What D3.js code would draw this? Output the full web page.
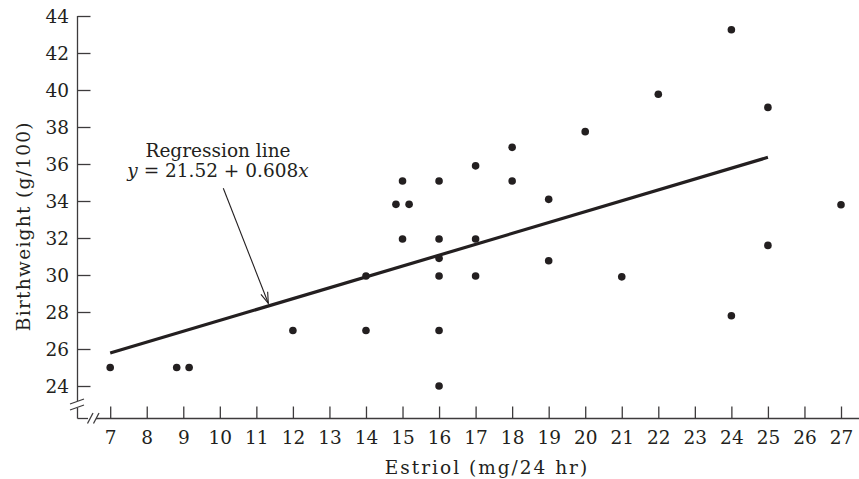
<!DOCTYPE html>
<html><head><meta charset="utf-8">
<script src="https://cdn.jsdelivr.net/npm/d3@7"></script>
<style>
body{margin:0;background:#fff}
svg{display:block}
text{font-family:"DejaVu Serif",serif;fill:#231f20}
</style>
</head><body><div id="chart"></div>
<script>
// ---- data ----
const estriol     = [7, 8.82, 9.16, 12, 14, 16, 16, 14, 16, 16, 17, 19, 21, 24, 15, 16, 17, 25, 27, 14.82, 15.18, 15, 16, 19, 18, 17, 18, 20, 22, 25, 24];
const birthweight = [25, 25, 25, 27, 27, 27, 24, 29.95, 29.95, 30.9, 29.95, 30.77, 29.9, 27.8, 31.95, 31.95, 31.95, 31.6, 33.8, 33.82, 33.82, 35.08, 35.08, 34.09, 35.08, 35.9, 36.9, 37.75, 39.77, 39.06, 43.26];
const xTicks = [7,8,9,10,11,12,13,14,15,16,17,18,19,20,21,22,23,24,25,26,27];
const yTicks = [24,26,28,30,32,34,36,38,40,42,44];
const lineX = [7, 25];
const lineY = [25.78, 36.36];
const annotationLines = ["Regression line", "y = 21.52 + 0.608x"];
const xTitle = "Estriol (mg/24 hr)";
const yTitle = "Birthweight (g/100)";

// ---- layout ----
const W = 859, H = 479;
const axisX = 77.5, axisY = 418.5;
const ink = "#231f20", axisInk = "#3d3b3c";

const svg = d3.select("#chart").append("svg").attr("width", W).attr("height", H);

const x = d3.scaleLinear().domain([7, 27]).range([110.2, 841.0]);
const y = d3.scaleLinear().domain([24, 44]).range([386, 16]);

// axes (ticks inward)
const gx = svg.append("g").attr("transform", `translate(0,${axisY})`)
  .style("color", axisInk)
  .call(d3.axisBottom(x).tickValues(xTicks).tickFormat(d3.format("d")).tickSize(-12).tickSizeOuter(0).tickPadding(12));
const gy = svg.append("g").attr("transform", `translate(${axisX},0)`)
  .style("color", axisInk)
  .call(d3.axisLeft(y).tickValues(yTicks).tickFormat(d3.format("d")).tickSize(-13).tickSizeOuter(0).tickPadding(8.5));
[gx, gy].forEach(g => {
  g.select(".domain").remove();
  g.selectAll(".tick line").attr("stroke-width", 1.3);
  g.selectAll(".tick text").style("font-family", '"DejaVu Serif",serif').style("font-size", "18.5px").attr("fill", ink);
});
gy.selectAll(".tick text").attr("dy", "0.36em");

// axis lines with breaks
const axisSegs = [
  [[axisX, y(44)], [axisX, 401]],
  [[axisX, 408], [axisX, axisY]],
  [[axisX, axisY], [88, axisY]],
  [[96, axisY], [W, axisY]],
  // break marks
  [[70, 404], [84, 399]],
  [[70, 410], [84, 405]],
  [[87.5, 423.5], [93, 413]],
  [[93.5, 423.5], [99, 413]]
];
svg.append("g").selectAll("line").data(axisSegs).join("line")
  .attr("x1", d => d[0][0]).attr("y1", d => d[0][1])
  .attr("x2", d => d[1][0]).attr("y2", d => d[1][1])
  .attr("stroke", axisInk).attr("stroke-width", 1.3);

// regression line
svg.append("path")
  .datum(lineX.map((v, i) => [v, lineY[i]]))
  .attr("d", d3.line().x(d => x(d[0])).y(d => y(d[1])))
  .attr("fill", "none").attr("stroke", ink).attr("stroke-width", 3.2);

// points
svg.append("g").selectAll("circle").data(estriol.map((v, i) => [v, birthweight[i]])).join("circle")
  .attr("cx", d => x(d[0])).attr("cy", d => y(d[1])).attr("r", 3.8).attr("fill", ink);

// annotation
const ax = x(9.95), ay = y(36.39);
const ann = svg.append("text").attr("text-anchor", "middle").style("font-size", "18.5px");
ann.append("tspan").attr("x", ax).attr("y", ay).text(annotationLines[0]);
const l2 = ann.append("tspan").attr("x", ax).attr("y", ay + 20.6);
const parts = annotationLines[1].match(/^(y)(.*?)(x)$/);
l2.append("tspan").style("font-style", "italic").text(parts[1]);
l2.append("tspan").text(parts[2]);
l2.append("tspan").style("font-style", "italic").text(parts[3]);

// arrow
const a0 = [x(10.095), y(34.69)], a1 = [x(11.327), y(28.47)];
svg.append("line").attr("x1", a0[0]).attr("y1", a0[1]).attr("x2", a1[0]).attr("y2", a1[1])
  .attr("stroke", ink).attr("stroke-width", 1.1);
const ang = Math.atan2(a1[1] - a0[1], a1[0] - a0[0]);
const hl = 11, hw = 3.6;
const bx = a1[0] - hl * Math.cos(ang), by = a1[1] - hl * Math.sin(ang);
const px = -Math.sin(ang), py = Math.cos(ang);
svg.append("path")
  .attr("d", `M${bx + px * hw},${by + py * hw}L${a1[0]},${a1[1]}L${bx - px * hw},${by - py * hw}`)
  .attr("fill", "none").attr("stroke", ink).attr("stroke-width", 1.1);

// axis titles
svg.append("text").attr("x", 487).attr("y", 473.5).attr("text-anchor", "middle")
  .style("font-size", "18.5px").style("letter-spacing", "2px").text(xTitle);
svg.append("text").attr("transform", "translate(30,226.2) rotate(-90)").attr("text-anchor", "middle")
  .style("font-size", "18.5px").style("letter-spacing", "1.3px").text(yTitle);
</script>
</body></html>
